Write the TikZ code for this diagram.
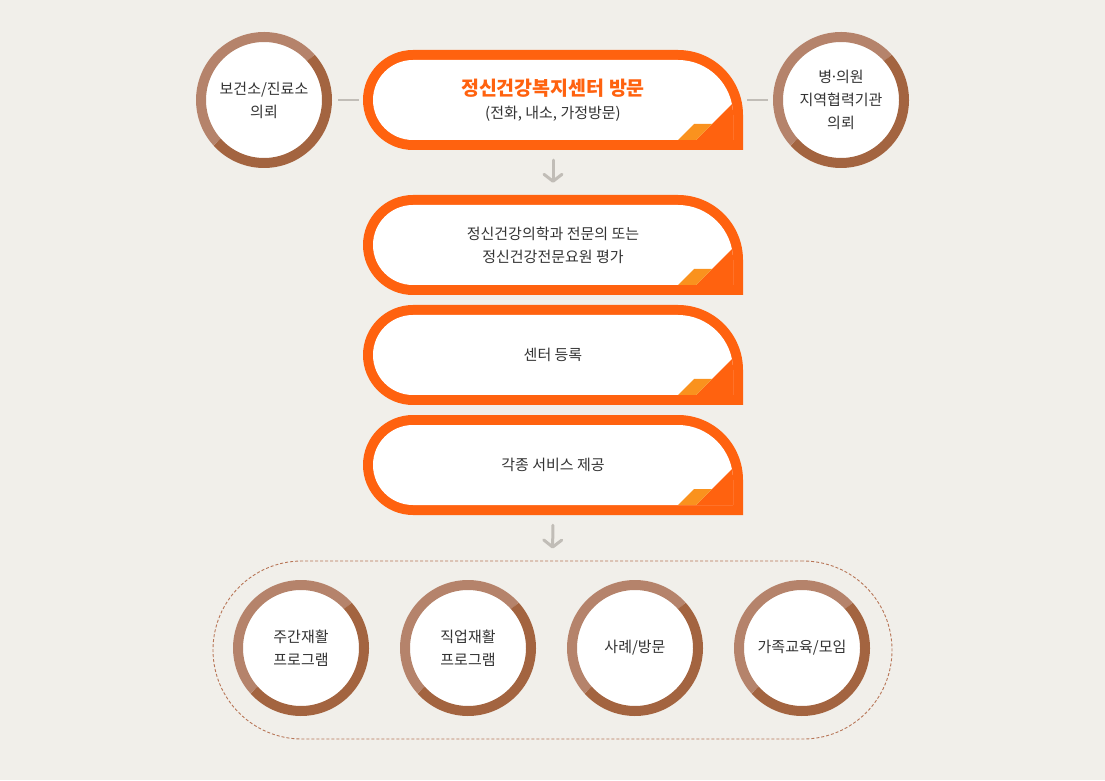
\documentclass[tikz,border=0pt]{standalone}
\usepackage{fontspec}
\setmainfont{Noto Sans CJK KR}
\usepackage{tikz}
\usetikzlibrary{arrows.meta,positioning}
\newcommand{\letrita}{\fontsize{15}{23}\selectfont}
\newcommand{\letrota}{\fontsize{19.5}{28}\selectfont}
\definecolor{fondito}{RGB}{241,239,234}
\definecolor{naranjita}{RGB}{255,98,15}
\definecolor{amarillito}{RGB}{250,146,30}
\definecolor{cafecito}{RGB}{181,131,107}
\definecolor{cafeoscuro}{RGB}{163,100,64}
\definecolor{punteadito}{RGB}{184,118,88}
\definecolor{grisito}{RGB}{193,189,183}
\definecolor{textito}{RGB}{51,51,51}
\tikzset{>={Straight Barb[length=7pt,width=18pt,round]}}

\begin{document}
\begin{tikzpicture}[x=1pt,y=1pt,
	caja/.style={minimum width=380pt, minimum height=100pt, inner sep=0pt, align=center, text=textito, font=\letrita},
	circulo/.style={circle, fill=white, minimum size=136pt, inner sep=0pt, align=center, text=textito, font=\letrita},
	anillo/.style={line width=10pt},
	grupo/.style={draw=punteadito, line width=0.9pt, dash pattern=on 3pt off 2pt, rounded corners=89pt, minimum width=679pt, minimum height=178pt},
	linea/.style={draw=grisito, line width=1.5pt},
	flecha/.style={->, draw=grisito, line width=3pt, line cap=round}]

		\useasboundingbox (0,0) rectangle (1105,780);
		\fill[fondito] (0,0) rectangle (1105,780);

		% cajas
		\foreach \y in {680,535,425,315}{
			\fill[naranjita] (743,\y-50) -- (413,\y-50) arc[start angle=270, end angle=90, radius=50pt] -- (678,\y+50) arc[start angle=90, end angle=0, radius=65pt] -- cycle;
			\begin{scope}
				\clip (733,\y-40) -- (413,\y-40) arc[start angle=270, end angle=90, radius=40pt] -- (678,\y+40) arc[start angle=90, end angle=0, radius=55pt] -- cycle;
				\fill[white] (370,\y-45) rectangle (740,\y+45);
				\fill[naranjita] (696,\y-40) -- ++(60,60) -- ++(0,-60) -- cycle;
			\end{scope}
			\fill[amarillito] (678,\y-40) -- (694,\y-24) -- (712,\y-24) -- (696,\y-40) -- cycle;
		}

		\node[caja] (visita) at (553,680) {{\letrota\bfseries\color{naranjita}정신건강복지센터 방문}\\(전화, 내소, 가정방문)};
		\node[caja] (evaluacion) at (553,535) {정신건강의학과 전문의 또는\\정신건강전문요원 평가};
		\node[caja] (registro) at (553,425) {센터 등록};
		\node[caja] (servicio) at (553,315) {각종 서비스 제공};

		\node[grupo] (programas) at (552.5,130) {};

		\node[circulo] (bogeonso) at (264,680) {보건소/진료소\\의뢰};
		\node[circulo] (byeongwon) at (841,680) {병\kern-0.15em·\kern-0.15em의원\\지역협력기관\\의뢰};
		\node[circulo] (jugan) at (301,132) {주간재활\\프로그램};
		\node[circulo] (jigeop) at (468,132) {직업재활\\프로그램};
		\node[circulo] (sarye) at (635,132) {사례/방문};
		\node[circulo] (gajok) at (802,132) {가족교육/모임};

		\foreach \c in {bogeonso,byeongwon,jugan,jigeop,sarye,gajok}{
			\draw[anillo, cafecito] (\c.center) ++(42:63pt) arc[start angle=42, end angle=222, radius=63pt];
			\draw[anillo, cafeoscuro] (\c.center) ++(222:63pt) arc[start angle=222, end angle=402, radius=63pt];
		}

		\draw[linea, shorten <=6pt, shorten >=4pt] (bogeonso.east) -- (visita.west);
		\draw[linea, shorten <=4pt, shorten >=5pt] (visita.east) -- (byeongwon.west);

		\draw[flecha, shorten <=10pt, shorten >=12pt] (visita.south) -- (evaluacion.north);
		\draw[flecha, shorten <=10pt, shorten >=12pt] (servicio.south) -- (programas.north);
		% \draw[flecha] (evaluacion.south) -- (registro.north);

	\end{tikzpicture}
\end{document}
